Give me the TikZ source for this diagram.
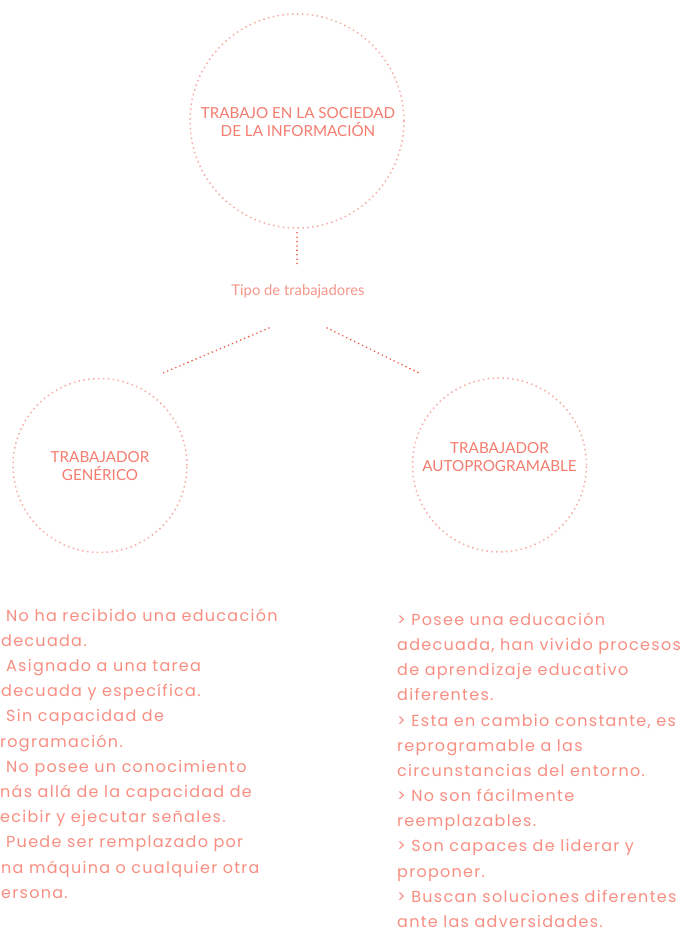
\documentclass[tikz,border=0pt]{standalone}
\usepackage{fontspec}
\newfontfamily\headfont{Lato}
\newfontfamily\bodyfont[LetterSpace=8]{Poppins}
\definecolor{txtc}{HTML}{F47C6E}
\definecolor{bodyc}{HTML}{F88E81}
\definecolor{tipoc}{HTML}{F4968A}
\definecolor{ringc}{HTML}{F5ADA3}
\definecolor{connc}{HTML}{EF5B47}
\tikzset{
  ring/.style={circle, draw=ringc, line width=1.5pt, dash pattern=on 1.5pt off 3.4pt, inner sep=0pt},
  conn/.style={draw=connc, line width=1.8pt, line cap=round, dash pattern=on 0pt off 4.4pt},
  headtxt/.style={text=txtc, font=\headfont\fontsize{15.2}{18}\selectfont, align=center, inner sep=0pt},
  tipotxt/.style={text=tipoc, font=\headfont\fontsize{14.8}{17}\selectfont, inner sep=0pt},
  bodytxt/.style={text=bodyc, font=\bodyfont\fontsize{16}{18}\selectfont, inner sep=0pt, anchor=base west}
}
\begin{document}
\begin{tikzpicture}[x=1pt,y=-1pt]
\useasboundingbox (0,0) rectangle (689,932);
\clip (0,0) rectangle (689,932);
% circles
\node[ring, minimum size=214pt] (top) at (297,121) {};
\node[ring, minimum size=174pt] (gen) at (100,465.5) {};
\node[ring, minimum size=174pt] (auto) at (499.5,465) {};
% circle texts
\node[headtxt] (topT) at (298,122) {TRABAJO EN LA SOCIEDAD\\DE LA INFORMACIÓN};
\node[headtxt] (genT) at (100,466) {TRABAJADOR\\GENÉRICO};
\node[headtxt] (autoT) at (499.5,457.5) {TRABAJADOR\\AUTOPROGRAMABLE};
% middle label
\node[tipotxt] (tipo) at (298,291) {Tipo de trabajadores};
% connectors
\coordinate (vEnd) at (297,264);
\draw[conn] ([yshift=-4pt]top.south) -- (vEnd);
\coordinate (lA) at (269,328);
\coordinate (lB) at (163,373);
\draw[conn] (lA) -- (lB);
\coordinate (rA) at (327,328);
\coordinate (rB) at (421,374);
\draw[conn] (rA) -- (rB);
% left list (as printed, cropped at the left edge)
\foreach [count=\i] \t/\xx in {%
  {No ha recibido una educación}/6,
  {decuada.}/1,
  {Asignado a una tarea}/6,
  {decuada y específica.}/1,
  {Sin capacidad de}/6,
  {rogramación.}/0,
  {No posee un conocimiento}/6,
  {nás allá de la capacidad de}/0,
  {ecibir y ejecutar señales.}/0,
  {Puede ser remplazado por}/6,
  {na máquina o cualquier otra}/1,
  {ersona.}/1}
  \node[bodytxt] (g\i) at (\xx,{621+25.2*(\i-1)}) {\t};
% right list
\foreach [count=\i] \t in {%
  {> Posee una educación},
  {adecuada, han vivido procesos},
  {de aprendizaje educativo},
  {diferentes.},
  {> Esta en cambio constante, es},
  {reprogramable a las},
  {circunstancias del entorno.},
  {> No son fácilmente},
  {reemplazables.},
  {> Son capaces de liderar y},
  {proponer.},
  {> Buscan soluciones diferentes},
  {ante las adversidades.}}
  \node[bodytxt] (a\i) at (397,{625.5+25.15*(\i-1)}) {\t};
\end{tikzpicture}
\end{document}
